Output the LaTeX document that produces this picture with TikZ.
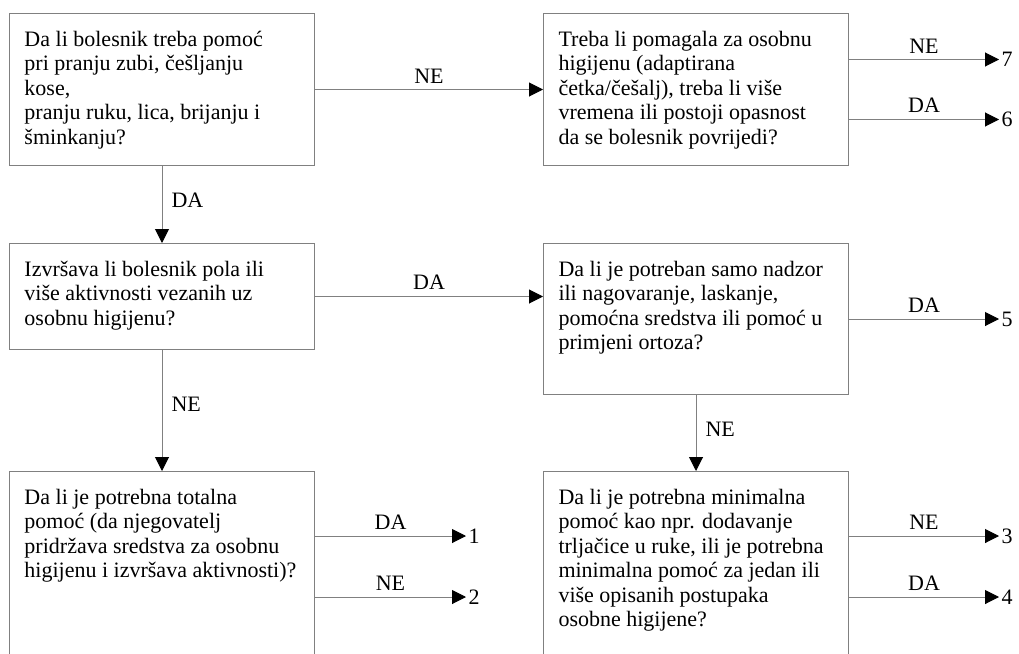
\documentclass[tikz,border=0pt]{standalone}
\usepackage{fontspec}
\setmainfont{Liberation Serif}
\usetikzlibrary{positioning,arrows.meta}

\tikzset{
  qbox/.style={draw=black!50, line width=1pt, inner xsep=15pt, inner ysep=15.9pt},
  conn/.style={draw=black!50, line width=1pt},
  lbl/.style={inner sep=6pt},
  num/.style={inner sep=2pt, anchor=west},
}
\newcommand{\qtext}[2]{\parbox[t][#1][t]{275pt}{\strut #2}}

\begin{document}
\begin{tikzpicture}[font=\fontsize{22}{24.4}\selectfont, node distance=77pt,
  >={Triangle[length=14pt,width=14pt,color=black]}]
  \useasboundingbox (-9pt,13pt) rectangle (1010pt,-640pt);

  \node[qbox, anchor=north west] (QTeeth) at (0,0) {\qtext{120.2pt}{Da li bolesnik treba pomoć\\
    pri pranju zubi, češljanju\\ kose,\\ pranju ruku, lica, brijanju i\\ šminkanju?}};
  \node[qbox] (QAids) [right=228pt of QTeeth] {\qtext{120.2pt}{Treba li pomagala za osobnu\\
    higijenu (adaptirana\\ četka/češalj), treba li više\\ vremena ili postoji opasnost\\
    da se bolesnik povrijedi?}};
  \node[qbox] (QHalf) [below=of QTeeth] {\qtext{74.2pt}{Izvršava li bolesnik pola ili\\
    više aktivnosti vezanih uz\\ osobnu higijenu?}};
  \node[qbox] (QSuper) [below=of QAids] {\qtext{119.2pt}{Da li je potreban samo nadzor\\
    ili nagovaranje, laskanje,\\ pomoćna sredstva ili pomoć u\\ primjeni ortoza?}};
  \node[qbox] (QTotal) [below=121pt of QHalf] {\qtext{170pt}{Da li je potrebna totalna\\
    pomoć (da njegovatelj\\ pridržava sredstva za osobnu\\ higijenu i izvršava aktivnosti)?}};
  \node[qbox] (QMin) [below=76pt of QSuper] {\qtext{170pt}{Da li je potrebna minimalna\\
    pomoć kao npr. dodavanje\\ trljačice u ruke, ili je potrebna\\ minimalna pomoć za jedan ili\\
    više opisanih postupaka\\ osobne higijene?}};

  % ends of the outgoing arrows
  \coordinate (o7) at ([shift={(150pt,30pt)}]QAids.east);
  \coordinate (o6) at ([shift={(150pt,-30pt)}]QAids.east);
  \coordinate (o5) at ([shift={(150pt,0pt)}]QSuper.east);
  \coordinate (o1) at ([shift={(151pt,-65pt)}]QTotal.north east);
  \coordinate (o2) at ([shift={(151pt,-126pt)}]QTotal.north east);
  \coordinate (o3) at ([shift={(150pt,-65pt)}]QMin.north east);
  \coordinate (o4) at ([shift={(150pt,-126pt)}]QMin.north east);

  \draw[conn,->] (QTeeth.east) -- node[lbl, above] (tNE1) {NE} (QAids.west);
  \draw[conn,->] (QTeeth.south) -- node[lbl, right, pos=.45, xshift=3pt] (tDA1) {DA} (QHalf.north);
  \draw[conn,->] (QHalf.east) -- node[lbl, above] (tDA2) {DA} (QHalf.east -| QSuper.west);
  \draw[conn,->] (QHalf.south) -- node[lbl, right, pos=.45, xshift=3pt] (tNE2) {NE} (QTotal.north);
  \draw[conn,->] (QSuper.south) -- node[lbl, right, pos=.45, xshift=3pt] (tNE3) {NE} (QMin.north);

  \draw[conn,->] (o7 -| QAids.east) -- node[lbl, above] (tNE7) {NE} (o7) node[num] (n7) {7};
  \draw[conn,->] (o6 -| QAids.east) -- node[lbl, above] (tDA6) {DA} (o6) node[num] (n6) {6};
  \draw[conn,->] (QSuper.east) -- node[lbl, above] (tDA5) {DA} (o5) node[num] (n5) {5};
  \draw[conn,->] (o1 -| QTotal.east) -- node[lbl, above] (tDA1b) {DA} (o1) node[num] (n1) {1};
  \draw[conn,->] (o2 -| QTotal.east) -- node[lbl, above] (tNE2b) {NE} (o2) node[num] (n2) {2};
  \draw[conn,->] (o3 -| QMin.east) -- node[lbl, above] (tNE3b) {NE} (o3) node[num] (n3) {3};
  \draw[conn,->] (o4 -| QMin.east) -- node[lbl, above] (tDA4) {DA} (o4) node[num] (n4) {4};
\end{tikzpicture}
\end{document}
